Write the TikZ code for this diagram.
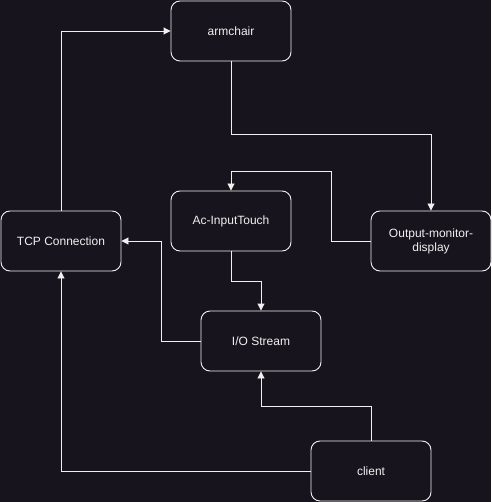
\documentclass[tikz,border=0pt]{standalone}
\usepackage{fontspec}
\setmainfont{Liberation Sans}
\usetikzlibrary{arrows.meta}
\definecolor{bg}{RGB}{24,20,29}
\definecolor{fg}{RGB}{240,240,240}
\begin{document}
\begin{tikzpicture}[x=1pt,y=-1pt,
  box/.style={draw=fg,fill=bg,rounded corners=9pt,minimum width=120pt,minimum height=60pt,
    text=fg,font=\fontsize{12pt}{14pt}\selectfont,align=center,line width=0.9pt,inner sep=2pt},
  conn/.style={draw=fg,line width=0.9pt,-{Triangle[width=7pt,length=7pt]}}]
\fill[bg] (0,0) rectangle (491,502);
\useasboundingbox (0,0) rectangle (491,502);
\node[box] (arm) at (231,31) {armchair};
\node[box] (tcp) at (61,241) {TCP Connection};
\node[box] (ac) at (231,221) {Ac-InputTouch};
\node[box,text width=100pt] (out) at (431,241) {Output-monitor-\\display};
\node[box] (io) at (261,341) {I/O Stream};
\node[box] (cl) at (371,471) {client};
\draw[conn] (tcp.north) |- (arm.west);
\draw[conn] (arm.south) -- (231,134) -| (out.north);
\draw[conn] (out.west) -- (331,241) -- (331,171) -| (ac.north);
\draw[conn] (ac.south) -- (231,281) -| (io.north);
\draw[conn] (io.west) -- (161,341) |- (tcp.east);
\draw[conn] (cl.north) -- (371,406) -| (io.south);
\draw[conn] (cl.west) -| (tcp.south);
\end{tikzpicture}
\end{document}
